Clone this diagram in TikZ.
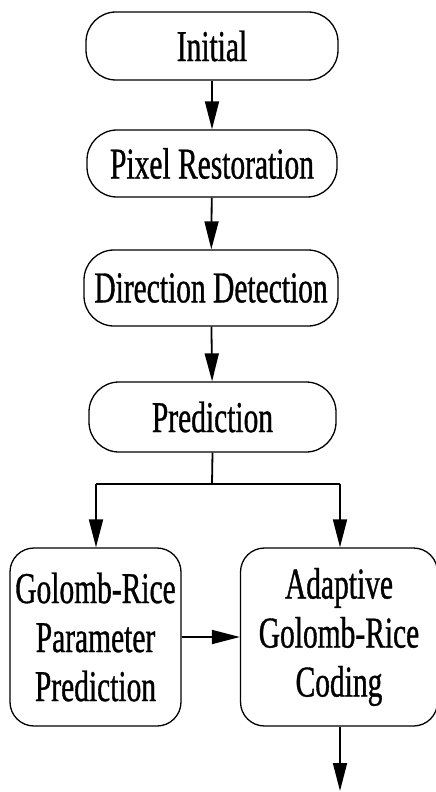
\documentclass[tikz,border=0pt]{standalone}
\usepackage{fontspec}
\newfontfamily\condserif[FakeStretch=0.67,FakeBold=0.8]{Liberation Serif}
\usetikzlibrary{arrows.meta}
\begin{document}
\begin{tikzpicture}[x=1pt,y=-1pt,
  every node/.style={font=\condserif\fontsize{44}{49}\selectfont, align=center, inner sep=0pt},
  pill/.style={draw, line width=1.3pt, rounded corners=30pt},
  blk/.style={draw, line width=1.3pt, rounded corners=24pt},
  conn/.style={line width=1.8pt},
  arr/.style={conn, -{Triangle[length=28pt,width=14pt]}}]
\useasboundingbox (0,0) rectangle (436,792);
\node[pill, minimum width=252pt, minimum height=68pt] (init) at (212,46) {Initial};
\node[pill, minimum width=250pt, minimum height=67pt] (pix) at (212,163.5) {Pixel Restoration};
\node[pill, minimum width=254pt, minimum height=76pt] (dir) at (211,288) {Direction Detection};
\node[pill, minimum width=247pt, minimum height=70pt] (pred) at (212.5,417) {Prediction};
\node[blk, minimum width=171pt, minimum height=178pt] (gr) at (95.5,637) {Golomb-Rice\\Parameter\\Prediction};
\node[blk, minimum width=197pt, minimum height=178pt] (agr) at (339,637) {Adaptive\\Golomb-Rice\\Coding};
\coordinate (j) at (212,484);
\coordinate (jl) at (96,484);
\coordinate (jr) at (340,484);
\coordinate (out) at (340,791);
\draw[arr] (init) -- (pix);
\draw[arr] (pix) -- (dir);
\draw[arr] (dir) -- (pred);
\draw[conn] (pred.south) -- (j);
\draw[conn] (jl) -- (jr);
\draw[arr] (jl) -- (jl |- gr.north);
\draw[arr] (jr) -- (jr |- agr.north);
\draw[arr] (gr.east) -- (agr.west);
\draw[arr] (jr |- agr.south) -- (out);
\end{tikzpicture}
\end{document}
